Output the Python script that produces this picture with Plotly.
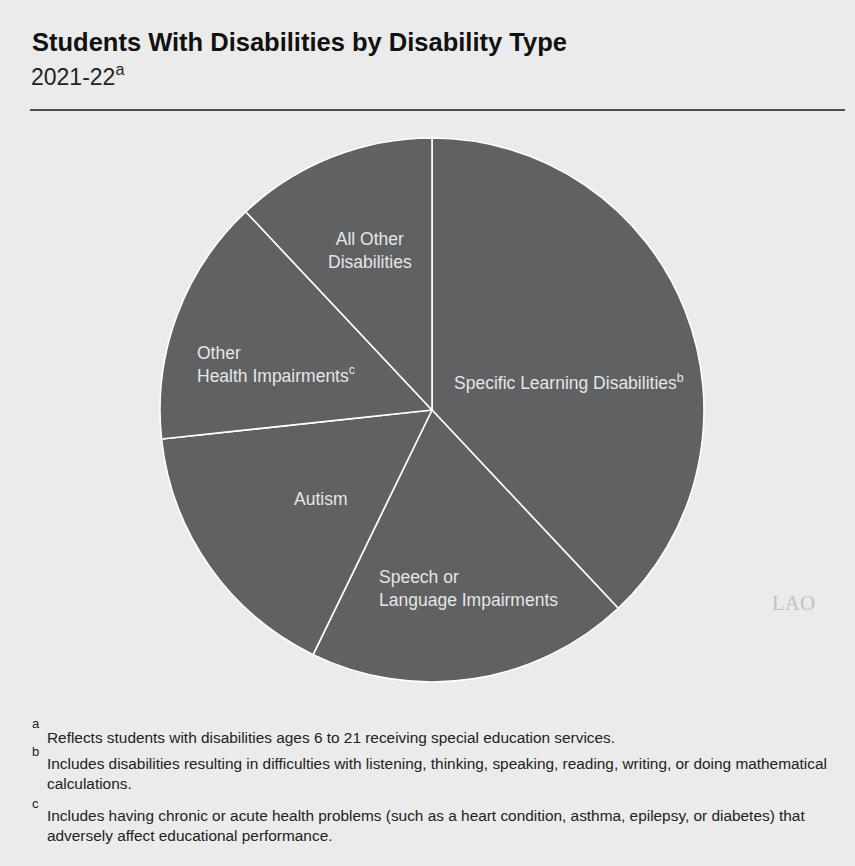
import plotly.graph_objects as go

W, H = 855, 866

labels = ["Specific Learning Disabilities", "Speech or Language Impairments", "Autism",
          "Other Health Impairments", "All Other Disabilities"]
values = [38.0, 19.2, 16.1, 14.7, 12.0]
label_text = ["Specific Learning Disabilities<sup>b</sup>", "Speech or<br>Language Impairments", "Autism",
              "Other<br>Health Impairments<sup>c</sup>", "All Other<br>Disabilities"]
title = "Students With Disabilities by Disability Type"
subtitle = "2021-22<sup>a</sup>"
notes = [
    ("a", "Reflects students with disabilities ages 6 to 21 receiving special education services."),
    ("b", "Includes disabilities resulting in difficulties with listening, thinking, speaking, reading, writing, or doing mathematical<br>calculations."),
    ("c", "Includes having chronic or acute health problems (such as a heart condition, asthma, epilepsy, or diabetes) that<br>adversely affect educational performance."),
]

def px(x):
    return x / W

def py(y):
    return 1 - y / H

FONT = "Liberation Sans, Arial, sans-serif"
SLICE = "#606163"

fig = go.Figure(go.Pie(
    labels=labels, values=values, sort=False, direction="clockwise", rotation=0,
    marker=dict(colors=[SLICE] * len(values), line=dict(color="white", width=1.6)),
    textinfo="none", hoverinfo="label+percent", showlegend=False,
    domain=dict(x=[px(160), px(704)], y=[py(682), py(138)]),
))

ann = []
# slice labels
lab_pos = [(569, 382, "center"), (377, 588, "left"), (320, 499, "center"), (195, 364, "left"), (370, 251, "center")]
for t, (x, y, al) in zip(label_text, lab_pos):
    ann.append(dict(x=px(x), y=py(y), xref="paper", yref="paper", text=t, showarrow=False,
                    xanchor=al if al == "left" else "center", yanchor="middle", align=al,
                    font=dict(family=FONT, size=17.5, color="#e6e6e6")))
# title
ann.append(dict(x=px(30), y=py(42), xref="paper", yref="paper", text="<b>" + title + "</b>", showarrow=False,
                xanchor="left", yanchor="middle", font=dict(family=FONT, size=25.5, color="#111111")))
ann.append(dict(x=px(29), y=py(75), xref="paper", yref="paper", text=subtitle, showarrow=False,
                xanchor="left", yanchor="middle", font=dict(family=FONT, size=23, color="#222222")))
# footnotes
note_y = [737, 773, 825]
letter_y = [723, 751, 803]
for (letter, txt), y, ly in zip(notes, note_y, letter_y):
    ann.append(dict(x=px(45), y=py(y), xref="paper", yref="paper", text=txt, showarrow=False,
                    xanchor="left", yanchor="middle", align="left",
                    font=dict(family=FONT, size=15.4, color="#222222")))
    ann.append(dict(x=px(30), y=py(ly), xref="paper", yref="paper", text=letter, showarrow=False,
                    xanchor="left", yanchor="middle", font=dict(family=FONT, size=13, color="#222222")))
# LAO mark
ann.append(dict(x=px(770), y=py(603), xref="paper", yref="paper", text="LAO", showarrow=False,
                xanchor="left", yanchor="middle",
                font=dict(family="Liberation Serif, Times New Roman, serif", size=21, color="#c2c2c2")))

fig.update_layout(
    width=W, height=H, margin=dict(l=0, r=0, t=0, b=0),
    paper_bgcolor="#ebebeb", plot_bgcolor="#ebebeb",
    annotations=ann,
    shapes=[dict(type="line", xref="paper", yref="paper", x0=px(30), x1=px(845), y0=py(110), y1=py(110),
                 line=dict(color="#1a1a1a", width=1.4))],
)

fig.write_html("out.html")
